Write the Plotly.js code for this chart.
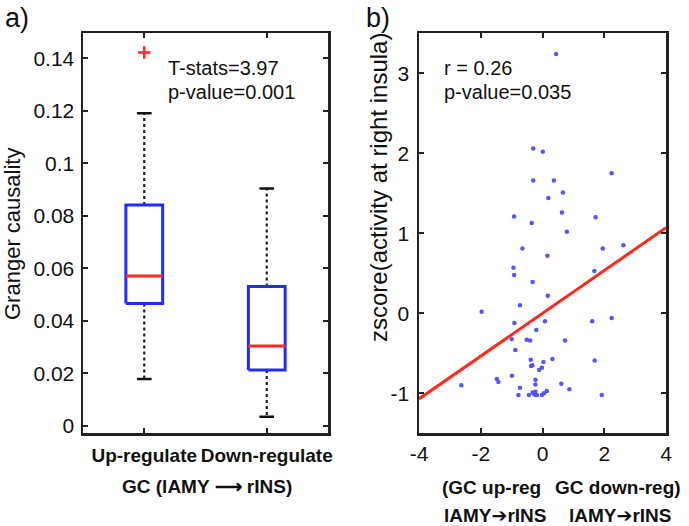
<!DOCTYPE html>
<html>
<head>
<meta charset="utf-8">
<script src="https://cdn.plot.ly/plotly-3.0.1.min.js"></script>
<style>html,body{margin:0;padding:0;background:#fff;}#chart{width:689px;height:526px;}</style>
</head>
<body>
<div id="chart"></div>
<script>
// ---------- Panel a) box plot statistics ----------
const groupPos = [1, 2];
const groupLabels = ['Up-regulate', 'Down-regulate'];
const q1Vals = [0.0466, 0.0212];
const medianVals = [0.0570, 0.0304];
const q3Vals = [0.0841, 0.0530];
const lowerWhisker = [0.0178, 0.0034];
const upperWhisker = [0.1190, 0.0904];
const outlierX = [1];
const outlierY = [0.1422];
const yTicksA = [0, 0.02, 0.04, 0.06, 0.08, 0.1, 0.12, 0.14];
const yTickTextA = ['0', '0.02', '0.04', '0.06', '0.08', '0.1', '0.12', '0.14'];

// ---------- Panel b) scatter ----------
const gcX = [0.44, -0.30, 0.01, 2.24, -0.30, 0.37, 0.66, 0.19, -0.92, -0.35, 0.63, 1.72, 0.79,
  -0.65, 0.16, 1.95, 2.62, -0.94, -0.92, -0.32, 1.68, 0.17, -0.73, -1.97, -0.91, 0.08, 1.61, 2.24,
  -0.20, -1.00, -0.51, -0.40, 0.73, -0.88, -0.38, 0.03, 0.32, 1.69, -0.37, -0.33, -0.02, -0.11,
  -0.99, -1.48, -1.43, -0.23, -0.23, 0.61, -2.63, -0.73, 0.87, -0.23, 0.14, -0.78, -0.44, -0.32,
  -0.27, -0.22, -0.18, -0.02, 0.05, 1.92];
const zScore = [3.24, 2.06, 2.02, 1.75, 1.66, 1.66, 1.51, 1.44, 1.21, 1.13, 1.26, 1.20, 1.02,
  0.81, 0.72, 0.81, 0.85, 0.57, 0.48, 0.39, 0.53, 0.22, 0.10, 0.02, -0.12, -0.10, -0.10, -0.06,
  -0.21, -0.32, -0.33, -0.34, -0.34, -0.46, -0.58, -0.61, -0.57, -0.59, -0.66, -0.65, -0.68, -0.71,
  -0.78, -0.82, -0.86, -0.83, -0.89, -0.88, -0.90, -0.93, -0.95, -0.98, -0.97, -1.02, -1.02, -0.99,
  -1.01, -1.02, -1.02, -1.02, -1.00, -1.02];
const fitX = [-4, 4];
const fitY = [-1.07, 1.07];
const xTicksB = [-4, -2, 0, 2, 4];
const yTicksB = [-1, 0, 1, 2, 3];

// ---------- styles ----------
const W = 689, H = 526;
const FONT = 'Liberation Sans, Arial, Helvetica, sans-serif';
const BLUE = 'rgb(30,45,255)';
const RED = 'rgb(255,40,30)';
const BOX_HALF = 0.15, CAP_HALF = 0.06;
const px = v => v / W;
const py = v => 1 - v / H;
const ARROW = '<span style="font-family:DejaVu Sans">\u2794</span>';

const traces = [];
groupPos.forEach((c, i) => {
  traces.push({x: [c, c], y: [q3Vals[i], upperWhisker[i]], xaxis: 'x', yaxis: 'y', mode: 'lines',
    line: {color: '#222', width: 2.2, dash: 'dot'}, hoverinfo: 'skip'});
  traces.push({x: [c, c], y: [q1Vals[i], lowerWhisker[i]], xaxis: 'x', yaxis: 'y', mode: 'lines',
    line: {color: '#222', width: 2.2, dash: 'dot'}, hoverinfo: 'skip'});
  traces.push({x: [c - CAP_HALF, c + CAP_HALF], y: [upperWhisker[i], upperWhisker[i]], xaxis: 'x', yaxis: 'y',
    mode: 'lines', line: {color: '#111', width: 2.5}, hoverinfo: 'skip'});
  traces.push({x: [c - CAP_HALF, c + CAP_HALF], y: [lowerWhisker[i], lowerWhisker[i]], xaxis: 'x', yaxis: 'y',
    mode: 'lines', line: {color: '#111', width: 2.5}, hoverinfo: 'skip'});
  traces.push({x: [c - BOX_HALF, c + BOX_HALF, c + BOX_HALF, c - BOX_HALF, c - BOX_HALF],
    y: [q1Vals[i], q1Vals[i], q3Vals[i], q3Vals[i], q1Vals[i]], xaxis: 'x', yaxis: 'y', mode: 'lines',
    fill: 'toself', fillcolor: 'rgba(255,255,255,1)',
    line: {color: BLUE, width: 3}, hoverinfo: 'skip'});
  traces.push({x: [c - BOX_HALF, c + BOX_HALF], y: [medianVals[i], medianVals[i]], xaxis: 'x', yaxis: 'y',
    mode: 'lines', line: {color: RED, width: 3}, hoverinfo: 'skip'});
});
traces.push({x: outlierX, y: outlierY, xaxis: 'x', yaxis: 'y', mode: 'markers',
  marker: {symbol: 'cross-thin', size: 9, line: {color: RED, width: 2.5}, color: RED}});

traces.push({x: gcX, y: zScore, xaxis: 'x2', yaxis: 'y2', mode: 'markers',
  marker: {color: 'rgb(85,85,255)', size: 4.5}});
traces.push({x: fitX, y: fitY, xaxis: 'x2', yaxis: 'y2', mode: 'lines',
  line: {color: RED, width: 3}});

const axBase = {
  showline: true, linecolor: '#222', linewidth: 2.5, mirror: 'ticks',
  ticks: 'inside', ticklen: 5, tickwidth: 2, tickcolor: '#222',
  showgrid: false, zeroline: false, fixedrange: true,
};

const layout = {
  width: W, height: H,
  margin: {l: 0, r: 0, t: 0, b: 0},
  paper_bgcolor: '#fff', plot_bgcolor: '#fff',
  showlegend: false,
  font: {family: FONT, color: '#111', size: 21},
  xaxis: Object.assign({}, axBase, {
    domain: [px(83), px(328)], range: [0.5, 2.5],
    tickmode: 'array', tickvals: groupPos, ticktext: groupLabels.map(s => '<b>' + s + '</b>'),
    tickfont: {size: 19, family: FONT, color: '#111'}, ticklabelstandoff: 3,
    anchor: 'y'
  }),
  yaxis: Object.assign({}, axBase, {
    domain: [py(433.3), py(33.3)], range: [-0.0029, 0.1495],
    tickmode: 'array', tickvals: yTicksA, ticktext: yTickTextA,
    tickfont: {size: 21, family: FONT, color: '#111'}, ticklabelstandoff: 2,
    anchor: 'x'
  }),
  xaxis2: Object.assign({}, axBase, {
    domain: [px(419), px(666)], range: [-4, 4],
    tickmode: 'array', tickvals: xTicksB, ticktext: xTicksB.map(String),
    tickfont: {size: 21, family: FONT, color: '#111'}, ticklabelstandoff: 0,
    anchor: 'y2'
  }),
  yaxis2: Object.assign({}, axBase, {
    domain: [py(433.3), py(33.3)], range: [-1.5, 3.5],
    tickmode: 'array', tickvals: yTicksB, ticktext: yTicksB.map(String),
    tickfont: {size: 21, family: FONT, color: '#111'}, ticklabelstandoff: 3,
    anchor: 'x2'
  }),
  annotations: [
    {text: 'a)', x: px(3), y: py(18), xref: 'paper', yref: 'paper', xanchor: 'left', yanchor: 'middle',
      showarrow: false, font: {size: 27, family: FONT, color: '#111'}},
    {text: 'b)', x: px(364), y: py(18), xref: 'paper', yref: 'paper', xanchor: 'left', yanchor: 'middle',
      showarrow: false, font: {size: 27, family: FONT, color: '#111'}},
    {text: 'Granger causality', x: px(13), y: py(234), xref: 'paper', yref: 'paper', textangle: -90,
      xanchor: 'center', yanchor: 'middle', showarrow: false, font: {size: 22, family: FONT, color: '#111'}},
    {text: 'zscore(activity at right insula)', x: px(378), y: py(187), xref: 'paper', yref: 'paper', textangle: -90,
      xanchor: 'center', yanchor: 'middle', showarrow: false, font: {size: 24, family: FONT, color: '#111'}},
    {text: 'T-stats=3.97', x: px(166), y: py(68), xref: 'paper', yref: 'paper', xanchor: 'left', yanchor: 'middle',
      showarrow: false, font: {size: 20, family: FONT, color: '#111'}},
    {text: 'p-value=0.001', x: px(166), y: py(92), xref: 'paper', yref: 'paper', xanchor: 'left', yanchor: 'middle',
      showarrow: false, font: {size: 20, family: FONT, color: '#111'}},
    {text: 'r = 0.26', x: px(442), y: py(68), xref: 'paper', yref: 'paper', xanchor: 'left', yanchor: 'middle',
      showarrow: false, font: {size: 20, family: FONT, color: '#111'}},
    {text: 'p-value=0.035', x: px(442), y: py(92), xref: 'paper', yref: 'paper', xanchor: 'left', yanchor: 'middle',
      showarrow: false, font: {size: 20, family: FONT, color: '#111'}},
    {text: '<b>GC (lAMY \u27F6 rINS)</b>', x: px(207), y: py(486), xref: 'paper', yref: 'paper',
      xanchor: 'center', yanchor: 'middle', showarrow: false, font: {size: 19, family: FONT, color: '#111'}},
    {text: '<b>(GC up-reg</b>', x: px(491), y: py(487), xref: 'paper', yref: 'paper',
      xanchor: 'center', yanchor: 'middle', showarrow: false, font: {size: 19, family: FONT, color: '#111'}},
    {text: '<b>GC down-reg)</b>', x: px(618), y: py(487), xref: 'paper', yref: 'paper',
      xanchor: 'center', yanchor: 'middle', showarrow: false, font: {size: 19, family: FONT, color: '#111'}},
    {text: '<b>lAMY' + ARROW + 'rINS</b>', x: px(495), y: py(515), xref: 'paper', yref: 'paper',
      xanchor: 'center', yanchor: 'middle', showarrow: false, font: {size: 19, family: FONT, color: '#111'}},
    {text: '<b>lAMY' + ARROW + 'rINS</b>', x: px(620), y: py(515), xref: 'paper', yref: 'paper',
      xanchor: 'center', yanchor: 'middle', showarrow: false, font: {size: 19, family: FONT, color: '#111'}}
  ]
};

Plotly.newPlot('chart', traces, layout, {staticPlot: true, displayModeBar: false});
</script>
</body>
</html>
